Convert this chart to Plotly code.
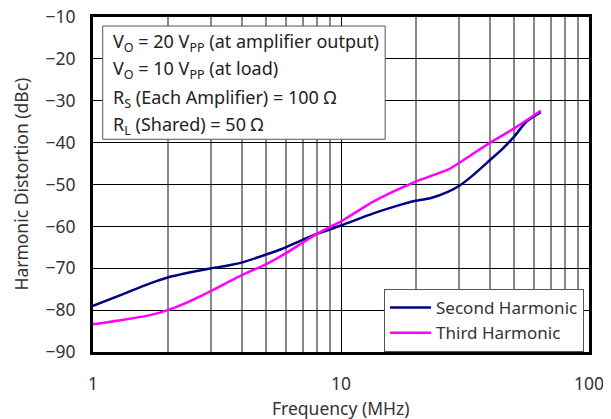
import plotly.graph_objects as go

# Données
freq_h2 = [1, 1.33, 1.7, 2, 3, 3.46, 4, 5, 5.77, 7, 8, 10, 13.5, 16.8, 20, 22.9,
           27.1, 30, 34.2, 40, 45.1, 50, 56.1, 63.9]
hd2 = [-79.0, -76.1, -73.6, -72.2, -70.0, -69.4, -68.6, -66.7, -65.4, -63.2, -61.8,
       -59.8, -56.9, -55.1, -53.9, -53.3, -51.7, -50.3, -47.7, -44.1, -41.3, -38.5,
       -34.9, -32.7]

freq_h3 = [1, 1.33, 1.7, 2, 2.39, 3, 4, 5, 6, 7, 8, 9, 10, 13.5, 16.8, 20, 27.1,
           30, 34.2, 40, 50, 63.9]
hd3 = [-83.4, -82.3, -81.2, -80.0, -78.2, -75.4, -71.6, -69.0, -66.4, -63.9, -61.8,
       -60.2, -58.8, -54.1, -51.3, -49.3, -46.4, -44.8, -42.6, -40.0, -36.6, -32.4]

notes = [
    "V<sub>O</sub> = 20 V<sub>PP</sub> (at amplifier output)",
    "V<sub>O</sub> = 10 V<sub>PP</sub> (at load)",
    "R<sub>S</sub> (Each Amplifier) = 100 Ω",
    "R<sub>L</sub> (Shared) = 50 Ω",
]
note_y = [0.925, 0.842, 0.758, 0.675]

x_major = [1, 10, 100]
x_minor = [2, 3, 4, 5, 6, 7, 8, 9, 20, 30, 40, 50, 60, 70, 80, 90]

FONT = "Noto Sans"

fig = go.Figure()

fig.add_trace(go.Scatter(
    x=freq_h2, y=hd2, name="Second Harmonic", mode='lines',
    line=dict(color='#000080', width=2.5, shape='spline', smoothing=0.6)
))
fig.add_trace(go.Scatter(
    x=freq_h3, y=hd3, name="Third Harmonic", mode='lines',
    line=dict(color='#FF00FF', width=2.5, shape='spline', smoothing=0.6)
))

# Encadré des conditions
fig.add_shape(type='rect', xref='paper', yref='paper',
              x0=0.0196, x1=0.589, y0=0.635, y1=0.973,
              line=dict(color='#555555', width=1), fillcolor='white', layer='above')
for txt, yy in zip(notes, note_y):
    fig.add_annotation(text=txt, xref='paper', yref='paper', x=0.0357, y=yy,
                       xanchor='left', yanchor='middle', showarrow=False,
                       font=dict(family=FONT, size=18, color='#222'))

# Titres des axes
fig.add_annotation(text="Frequency (MHz)", xref='paper', yref='paper', x=0.5, y=-0.167,
                   xanchor='center', yanchor='middle', showarrow=False,
                   font=dict(family=FONT, size=17.5, color='#333'))
fig.add_annotation(text="Harmonic Distortion (dBc)", xref='paper', yref='paper',
                   x=-0.147, y=0.5, textangle=-90, xanchor='center', yanchor='middle',
                   showarrow=False, font=dict(family=FONT, size=17.5, color='#333'))

# Habillage (la page ajoute ~8 px de marge autour de la figure)
fig.update_layout(
    width=603, height=411,
    margin=dict(l=85, r=22, t=9, b=67),
    plot_bgcolor='white', paper_bgcolor='white',
    font=dict(family=FONT, size=17.5, color='#333'),
    showlegend=True,
    legend=dict(x=0.99, y=0.0, xanchor='right', yanchor='bottom',
                bgcolor='white', bordercolor='#555555', borderwidth=1,
                font=dict(size=17, color='#333'), tracegroupgap=0, itemwidth=41),
    xaxis=dict(
        type='log', range=[0, 2], tickvals=x_major, ticktext=['1', '10', '100'],
        showgrid=True, gridcolor='black', gridwidth=1,
        minor=dict(tickvals=x_minor, showgrid=True, gridcolor='#888888', gridwidth=1.5, ticks=''),
        showline=True, linecolor='black', linewidth=3, mirror=True,
        ticks='', ticklabelstandoff=14, zeroline=False, automargin=False,
        ticklabeloverflow='allow'
    ),
    yaxis=dict(
        range=[-90, -10], dtick=10, showgrid=True, gridcolor='black', gridwidth=1,
        showline=True, linecolor='black', linewidth=3, mirror=True,
        ticks='', ticklabelstandoff=11, zeroline=False, automargin=False,
        ticklabeloverflow='allow'
    ),
)

fig.write_html("out.html")
